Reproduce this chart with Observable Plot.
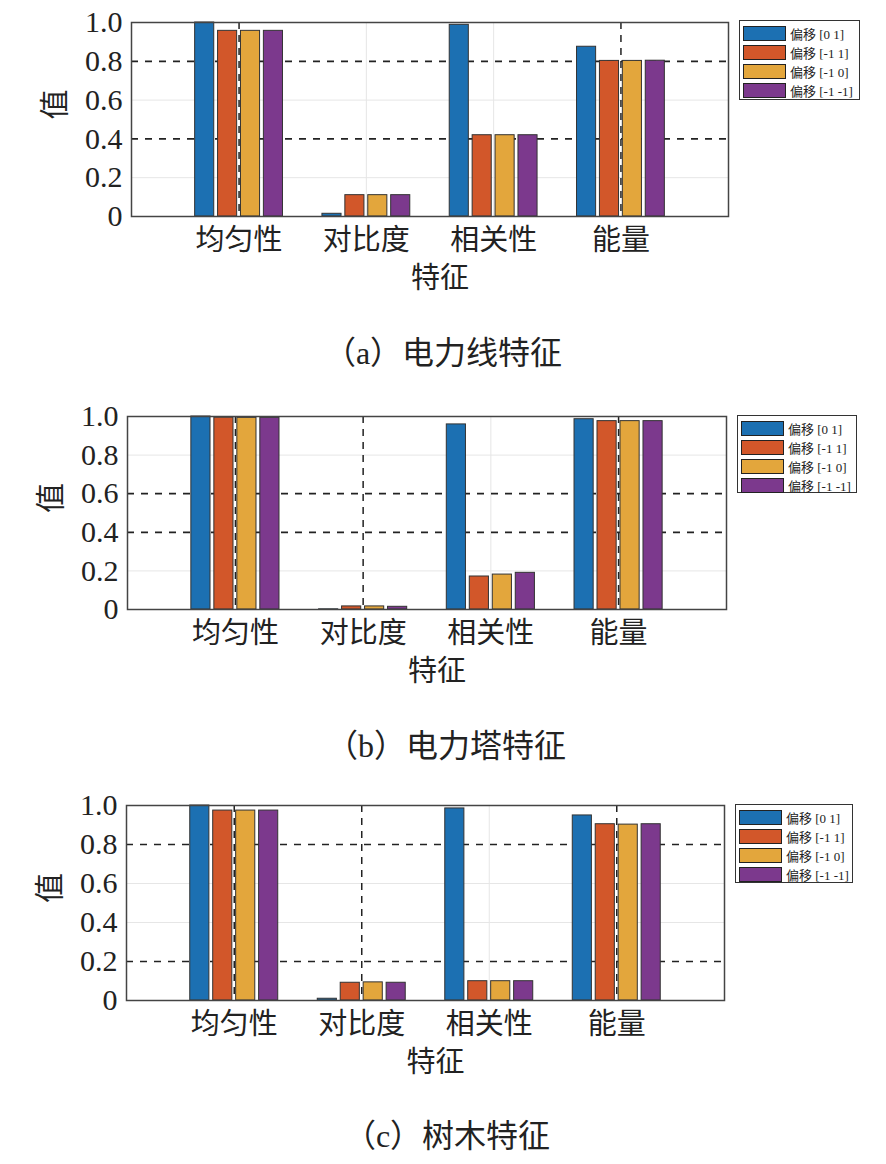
<!DOCTYPE html>
<html>
<head>
<meta charset="utf-8">
<script src="https://cdn.jsdelivr.net/npm/d3@7"></script>
<script src="https://cdn.jsdelivr.net/npm/@observablehq/plot@0.6"></script>
<style>
  body { margin: 0; background: #fff; }
  #page { position: relative; width: 886px; height: 1164px; overflow: hidden; font-family: "Liberation Serif", "Noto Sans CJK SC", serif; }
  .panel { position: absolute; left: 0; }
  .panel svg text { font-family: "Liberation Serif", "Noto Sans CJK SC", serif !important; }
  .legend { position: absolute; border: 1px solid #333; background: #fff; box-sizing: border-box; padding-top: 3px; }
  .legend .row { display: flex; align-items: center; height: 19px; }
  .legend .sw { width: 43px; height: 15px; margin-left: 3px; margin-right: 4px; border: 1px solid #222; box-sizing: border-box; }
  .legend .lab { font-size: 13px; color: #222; white-space: nowrap; }
  .caption { position: absolute; font-size: 32px; color: #222; white-space: nowrap; transform: translate(-50%, -50%); }
</style>
</head>
<body>
<div id="page"></div>
<script>
// ---------- data ----------
const features = ["均匀性", "对比度", "相关性", "能量"];
const offsets = ["偏移 [0 1]", "偏移 [-1 1]", "偏移 [-1 0]", "偏移 [-1 -1]"];
const palette = ["#1c70b2", "#d2572a", "#e3a63c", "#7c398d"];
const yTicks = [0, 0.2, 0.4, 0.6, 0.8, 1.0];
const yTickLabels = ["0", "0.2", "0.4", "0.6", "0.8", "1.0"];

// rows = offsets, columns = features
const powerLineValues = [
  [1.000, 0.014, 0.988, 0.875],
  [0.957, 0.110, 0.419, 0.802],
  [0.957, 0.110, 0.419, 0.802],
  [0.957, 0.110, 0.419, 0.803]
];
const towerValues = [
  [1.000, 0.001, 0.959, 0.986],
  [0.994, 0.016, 0.171, 0.976],
  [0.993, 0.016, 0.181, 0.976],
  [0.993, 0.014, 0.190, 0.976]
];
const treeValues = [
  [1.000, 0.009, 0.985, 0.949],
  [0.974, 0.091, 0.099, 0.904],
  [0.974, 0.093, 0.099, 0.902],
  [0.974, 0.091, 0.099, 0.904]
];
const captions = ["（a）电力线特征", "（b）电力塔特征", "（c）树木特征"];
const yLabel = "值";
const xLabel = "特征";

// ---------- layout / style ----------
const panels = [
  { values: powerLineValues, caption: captions[0], frameTop: 22, frameH: 194, left: 131, right: 728,
    darkY: [0.8, 0.4], darkX: [1, 4], legend: { x: 739, y: 20, w: 121, h: 80 }, cap: { x: 443, y: 350 } },
  { values: towerValues, caption: captions[1], frameTop: 416, frameH: 193, left: 127, right: 726,
    darkY: [0.6, 0.4], darkX: [1, 2, 4], legend: { x: 737, y: 415, w: 120, h: 78 }, cap: { x: 446, y: 743 } },
  { values: treeValues, caption: captions[2], frameTop: 805, frameH: 195, left: 126, right: 724,
    darkY: [0.8, 0.2], darkX: [1, 2, 4], legend: { x: 735, y: 804, w: 118, h: 79 }, cap: { x: 447, y: 1133 } }
];

const groupStep = 0.18;   // spacing between bars within a group (x units)
const barW = 0.15;        // bar width (x units)
const page = document.getElementById("page");
const fam = "Liberation Serif, Noto Sans CJK SC, serif";
const svgStyle = "font-family: 'Liberation Serif', 'Noto Sans CJK SC', serif; color: #222; background: transparent; overflow: visible;";

for (const p of panels) {
  const rows = [];
  p.values.forEach((series, j) => {
    series.forEach((v, i) => {
      const c = i + 1 + (j - 1.5) * groupStep;
      rows.push({ series: offsets[j], x1: c - barW / 2, x2: c + barW / 2, value: v });
    });
  });
  const gridY = [0.2, 0.4, 0.6, 0.8, 1.0];
  const gridX = [1, 2, 3, 4];
  const marginTop = 10, marginBottom = 90;
  const chart = Plot.plot({
    width: 886,
    height: marginTop + p.frameH + marginBottom,
    marginTop, marginBottom,
    marginLeft: p.left,
    marginRight: 886 - p.right,
    style: svgStyle,
    x: { domain: [0.155, 4.845], axis: null },
    y: { domain: [0, 1], axis: null },
    color: { type: "ordinal", domain: offsets, range: palette },
    marks: [
      // faint grid
      Plot.ruleY(gridY.filter(v => !p.darkY.includes(v)), { stroke: "#e6e6e6", strokeWidth: 1 }),
      Plot.ruleX(gridX.filter(v => !p.darkX.includes(v)), { stroke: "#e6e6e6", strokeWidth: 1 }),
      // dark dashed grid
      Plot.ruleY(p.darkY, { stroke: "#222", strokeWidth: 1.7, strokeDasharray: "7,7" }),
      Plot.ruleX(p.darkX, { stroke: "#222", strokeWidth: 1.5, strokeDasharray: "7,6" }),
      // bars
      Plot.rect(rows, { x1: "x1", x2: "x2", y1: 0, y2: "value", fill: "series", stroke: "#333", strokeWidth: 1 }),
      Plot.frame({ stroke: "#444", strokeWidth: 1.5 }),
      // y axis
      Plot.axisY(yTicks, { anchor: "left", tickSize: 0, tickPadding: 9, fontSize: 30, fontFamily: fam, tickFormat: (d, i) => yTickLabels[i], label: null }),
      Plot.text([yLabel], { frameAnchor: "left", dx: -76, rotate: -90, fontSize: 30, fontFamily: fam, text: d => d, fill: "#222" }),
      // x tick labels
      Plot.text(features, { x: (d, i) => i + 1, frameAnchor: "bottom", dy: 24, lineAnchor: "middle", fontSize: 29, fontFamily: fam, text: d => d, fill: "#222" }),
      Plot.text([xLabel], { frameAnchor: "bottom", dx: 10, dy: 62, lineAnchor: "middle", fontSize: 29, fontFamily: fam, text: d => d, fill: "#222" })
    ]
  });
  const holder = document.createElement("div");
  holder.className = "panel";
  holder.style.top = (p.frameTop - marginTop) + "px";
  holder.appendChild(chart);
  page.appendChild(holder);

  // legend
  const lg = document.createElement("div");
  lg.className = "legend";
  Object.assign(lg.style, { left: p.legend.x + "px", top: p.legend.y + "px", width: p.legend.w + "px", height: p.legend.h + "px" });
  offsets.forEach((name, j) => {
    const r = document.createElement("div");
    r.className = "row";
    const sw = document.createElement("div");
    sw.className = "sw";
    sw.style.background = palette[j];
    const lab = document.createElement("span");
    lab.className = "lab";
    lab.textContent = name;
    r.appendChild(sw); r.appendChild(lab);
    lg.appendChild(r);
  });
  page.appendChild(lg);

  // caption
  const cap = document.createElement("div");
  cap.className = "caption";
  cap.style.left = p.cap.x + "px";
  cap.style.top = p.cap.y + "px";
  cap.textContent = p.caption;
  page.appendChild(cap);
}
</script>
</body>
</html>
